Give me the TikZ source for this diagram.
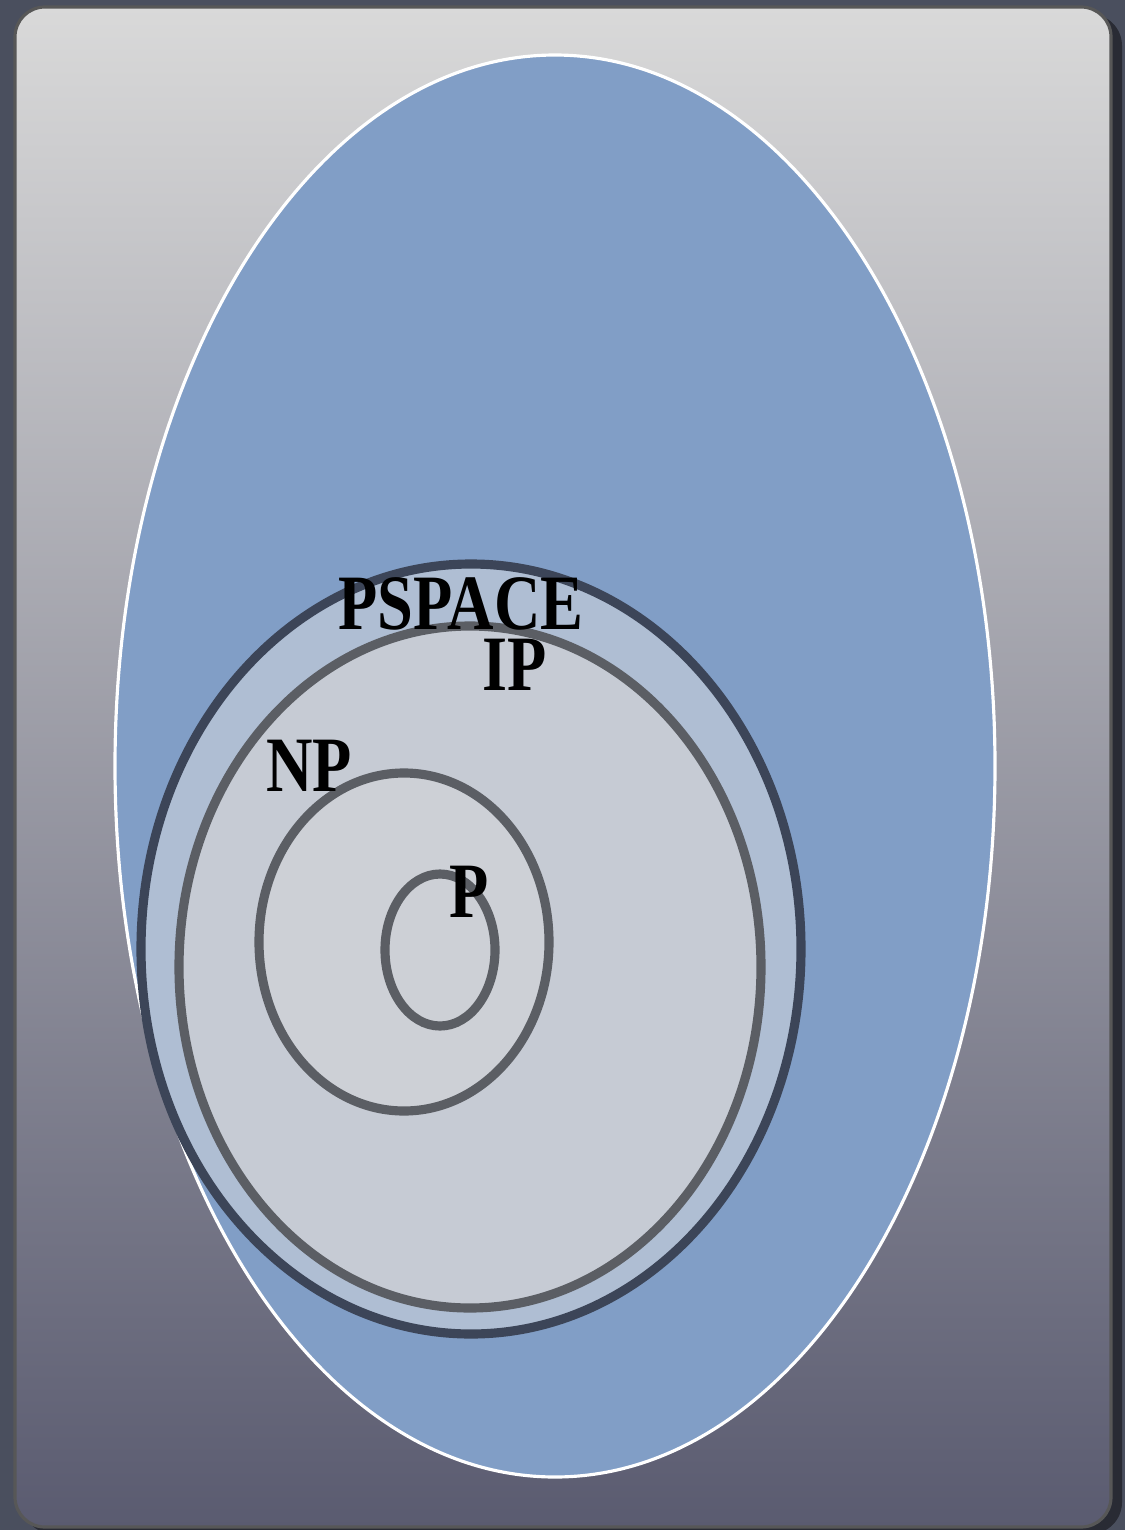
\documentclass[tikz,border=0pt]{standalone}
\usepackage{fontspec}
\usepackage{graphicx}
\setmainfont{Liberation Serif}
\definecolor{slate}{HTML}{4A4F5E}
\definecolor{paneltop}{HTML}{D9D9D9}
\definecolor{panelbot}{HTML}{5A5B70}
\definecolor{skyblue}{HTML}{819EC6}
\definecolor{bandblue}{HTML}{AFBED3}
\definecolor{ringdark}{HTML}{3C4558}
\definecolor{ringgray}{HTML}{5B5E64}
\definecolor{innergray}{HTML}{C6CBD4}
\definecolor{coregray}{HTML}{CDD0D6}
\newcommand{\clsname}[1]{\scalebox{0.82}[1]{#1}}
\begin{document}
\begin{tikzpicture}[x=0.01cm, y=-0.01cm,
  ring/.style={line width=2.6pt, draw=ringgray},
  cls/.style={font=\bfseries\fontsize{22.3}{22.3}\selectfont, inner sep=0pt}]
  \useasboundingbox (0,0) rectangle (1125,1530);
  \fill[slate] (0,0) rectangle (1125,1530);
  % panel with its shadow
  \fill[black!45!slate, rounded corners=9pt] (22,14) rectangle (1122,1534);
  \draw[draw=black!66, line width=0.9pt, rounded corners=8.5pt,
        top color=paneltop, bottom color=panelbot] (15,7) rectangle (1111,1527);
  % outer class
  \filldraw[fill=skyblue, draw=white, line width=0.9pt] (555,766) ellipse [x radius=440, y radius=711];
  % nested classes
  \filldraw[fill=bandblue, draw=ringdark, line width=2.6pt] (471,949) ellipse [x radius=330, y radius=385];
  \foreach \cx/\cy/\rx/\ry/\fc in {470/967/291/341/innergray,
    404/942/145/169/coregray, 440/950/55/76/coregray}
    \filldraw[ring, fill=\fc] (\cx,\cy) ellipse [x radius=\rx, y radius=\ry];
  \node[cls] (pspace) at (461,604) {\clsname{PSPACE}};
  \node[cls] (ip) at (515,665) {\clsname{IP}};
  \node[cls] (np) at (309,766) {\clsname{NP}};
  \node[cls] (p) at (469,892) {\clsname{P}};
\end{tikzpicture}
\end{document}
